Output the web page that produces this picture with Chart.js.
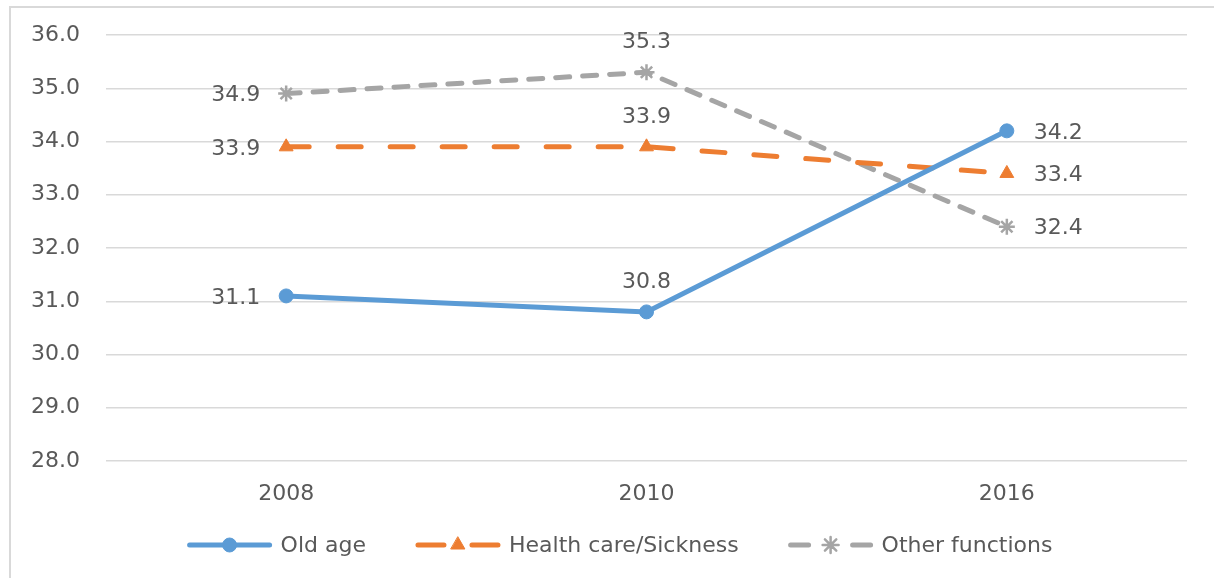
<!DOCTYPE html>
<html>
<head>
<meta charset="utf-8">
<title>Expenditure shares by function</title>
<script src="https://cdn.jsdelivr.net/npm/chart.js@4/dist/chart.umd.min.js"></script>
<style>
  html, body { margin: 0; padding: 0; background: #ffffff; }
  #wrap { position: relative; width: 1214px; height: 578px; }
  canvas { display: block; }
</style>
</head>
<body>
<div id="wrap"><canvas id="chart" width="1214" height="578"></canvas></div>
<script>
// Categories and series
const years = ['2008', '2010', '2016'];
const oldAge = [31.1, 30.8, 34.2];
const healthCare = [33.9, 33.9, 33.4];
const otherFunctions = [34.9, 35.3, 32.4];
const seriesNames = ['Old age', 'Health care/Sickness', 'Other functions'];

// Value axis range
const yMin = 28;
const yMax = 36;
const yStep = 1;

const FONT = '"DejaVu Sans", Verdana, sans-serif';
const FONT_SIZE = 22;
const TEXT_COLOR = '#595959';
const BLUE = '#5B9BD5';
const ORANGE = '#ED7D31';
const GRAY = '#A5A5A5';

// Outer frame (left and top edges of the chart box)
const framePlugin = {
  id: 'frame',
  beforeDraw(chart) {
    const ctx = chart.ctx;
    ctx.save();
    ctx.strokeStyle = '#D9D9D9';
    ctx.lineWidth = 2;
    ctx.beginPath();
    ctx.moveTo(10, chart.height);
    ctx.lineTo(10, 7);
    ctx.lineTo(chart.width, 7);
    ctx.stroke();
    ctx.restore();
  }
};

// Value labels: left of the first point, above the middle one, right of the last
const valueLabelPlugin = {
  id: 'valueLabels',
  afterDatasetsDraw(chart) {
    const ctx = chart.ctx;
    ctx.save();
    ctx.font = FONT_SIZE + 'px ' + FONT;
    ctx.fillStyle = TEXT_COLOR;
    ctx.textBaseline = 'middle';
    chart.data.datasets.forEach((ds, di) => {
      const meta = chart.getDatasetMeta(di);
      meta.data.forEach((pt, i) => {
        const txt = ds.data[i].toFixed(1);
        if (i === 0) {
          ctx.textAlign = 'right';
          ctx.fillText(txt, pt.x - 26, pt.y + 2);
        } else if (i === meta.data.length - 1) {
          ctx.textAlign = 'left';
          ctx.fillText(txt, pt.x + 27, pt.y + 2);
        } else {
          ctx.textAlign = 'center';
          ctx.fillText(txt, pt.x, pt.y - 30);
        }
      });
    });
    ctx.restore();
  }
};

// Legend row with line samples and markers
const legendPlugin = {
  id: 'lineLegend',
  afterDraw(chart) {
    const ctx = chart.ctx;
    const y = 545;
    const sampleW = 84;
    const textGap = 9;
    const itemGap = 50;
    ctx.save();
    ctx.font = FONT_SIZE + 'px ' + FONT;
    const items = chart.data.datasets.map(ds => ({ ds, w: ctx.measureText(ds.label).width }));
    const total = items.reduce((s, it) => s + sampleW + textGap + it.w, 0) + itemGap * (items.length - 1);
    let x = 620 - total / 2;
    items.forEach(({ ds, w }) => {
      const x0 = x, x1 = x + sampleW, cx = x + sampleW / 2;
      ctx.strokeStyle = ds.borderColor;
      ctx.lineWidth = ds.borderWidth;
      ctx.lineCap = 'round';
      ctx.setLineDash([]);
      ctx.beginPath();
      if (ds.legendSeg) {
        const L = ds.legendSeg;
        ctx.moveTo(x0 + 2, y); ctx.lineTo(x0 + L, y);
        ctx.moveTo(x1 - L, y); ctx.lineTo(x1 - 2, y);
      } else {
        ctx.moveTo(x0 + 2, y); ctx.lineTo(x1 - 2, y);
      }
      ctx.stroke();
      ctx.fillStyle = ds.pointBackgroundColor;
      ctx.strokeStyle = ds.pointBorderColor;
      ctx.lineWidth = ds.pointBorderWidth;
      Chart.helpers.drawPoint(ctx, {
        pointStyle: ds.pointStyle,
        radius: ds.pointRadius,
        rotation: 0,
        borderWidth: ds.pointBorderWidth
      }, cx, y);
      ctx.fillStyle = TEXT_COLOR;
      ctx.textAlign = 'left';
      ctx.textBaseline = 'middle';
      ctx.fillText(ds.label, x1 + textGap, y + 1);
      x = x1 + textGap + w + itemGap;
    });
    ctx.restore();
  }
};

new Chart(document.getElementById('chart'), {
  type: 'line',
  data: {
    labels: years,
    datasets: [
      {
        label: seriesNames[0],
        data: oldAge,
        borderColor: BLUE,
        backgroundColor: BLUE,
        borderWidth: 5,
        borderCapStyle: 'round',
        pointStyle: 'circle',
        pointRadius: 7,
        pointBackgroundColor: BLUE,
        pointBorderColor: BLUE,
        pointBorderWidth: 1,
        tension: 0
      },
      {
        label: seriesNames[1],
        data: healthCare,
        borderColor: ORANGE,
        backgroundColor: ORANGE,
        borderWidth: 5,
        borderDash: [23, 29],
        borderCapStyle: 'round',
        pointStyle: 'triangle',
        pointRadius: 8,
        pointBackgroundColor: ORANGE,
        pointBorderColor: ORANGE,
        pointBorderWidth: 1,
        legendSeg: 28,
        tension: 0
      },
      {
        label: seriesNames[2],
        data: otherFunctions,
        borderColor: GRAY,
        backgroundColor: GRAY,
        borderWidth: 5,
        borderDash: [14, 13],
        borderCapStyle: 'round',
        pointStyle: 'star',
        pointRadius: 8,
        pointBackgroundColor: GRAY,
        pointBorderColor: GRAY,
        pointBorderWidth: 2.5,
        legendSeg: 20,
        tension: 0
      }
    ]
  },
  options: {
    responsive: false,
    animation: false,
    devicePixelRatio: 1,
    layout: { padding: { left: 10, right: 27, top: 35, bottom: 57 } },
    plugins: {
      legend: { display: false },
      tooltip: { enabled: false }
    },
    scales: {
      x: {
        offset: true,
        grid: { display: false, drawTicks: false },
        border: { display: false },
        ticks: {
          padding: 20,
          color: TEXT_COLOR,
          font: { family: FONT, size: FONT_SIZE }
        },
        afterFit(scale) { scale.height = 60; }
      },
      y: {
        min: yMin,
        max: yMax,
        grid: { color: '#D9D9D9', lineWidth: 1.5, drawTicks: false },
        border: { display: false },
        ticks: {
          stepSize: yStep,
          padding: 26,
          color: TEXT_COLOR,
          font: { family: FONT, size: FONT_SIZE, lineHeight: 0.6 },
          callback: v => Number(v).toFixed(1)
        },
        afterFit(scale) { scale.width = 96; }
      }
    }
  },
  plugins: [framePlugin, valueLabelPlugin, legendPlugin]
});
</script>
</body>
</html>
